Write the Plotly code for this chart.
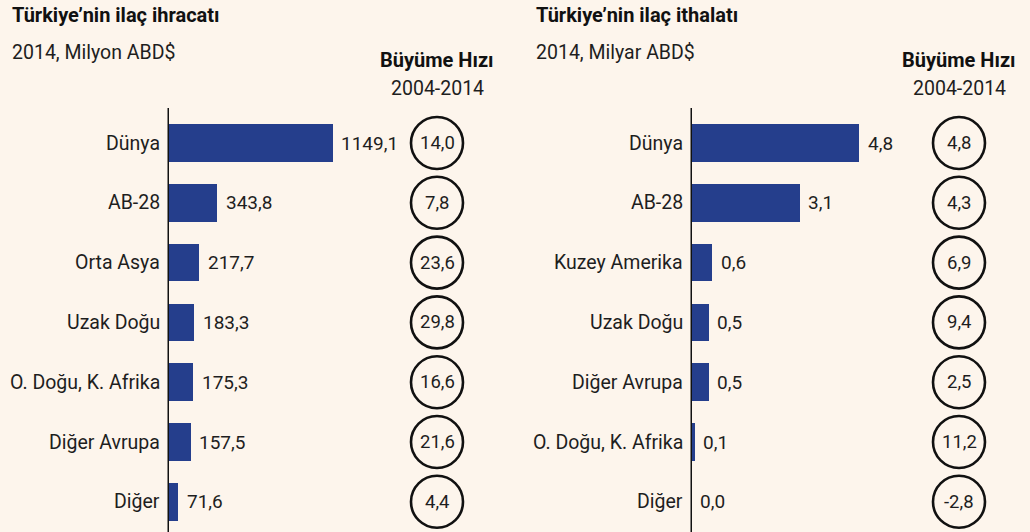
import plotly.graph_objects as go

# ---------------- data ----------------
exp_categories = ["Dünya", "AB-28", "Orta Asya", "Uzak Doğu", "O. Doğu, K. Afrika", "Diğer Avrupa", "Diğer"]
exp_values = [1149.1, 343.8, 217.7, 183.3, 175.3, 157.5, 71.6]
exp_growth = [14.0, 7.8, 23.6, 29.8, 16.6, 21.6, 4.4]

imp_categories = ["Dünya", "AB-28", "Kuzey Amerika", "Uzak Doğu", "Diğer Avrupa", "O. Doğu, K. Afrika", "Diğer"]
imp_values = [4.8, 3.1, 0.6, 0.5, 0.5, 0.1, 0.0]
imp_growth = [4.8, 4.3, 6.9, 9.4, 2.5, 11.2, -2.8]

exp_title = "Türkiye’nin ilaç ihracatı"
exp_unit = "2014, Milyon ABD$"
imp_title = "Türkiye’nin ilaç ithalatı"
imp_unit = "2014, Milyar ABD$"
growth_head = "Büyüme Hızı"
growth_period = "2004-2014"

# ---------------- style / layout ----------------
W, H = 1030, 532
BG = "#fdf5ec"
BAR = "#253e8c"
INK = "#1e1e1e"
FONT = "Roboto"
FS_CAT = 19.5
FS_VAL = 19
FS_CIRC = 18.5
FS_TITLE = 20
FS_SUB = 19.5

ROW0_PX = 143.0      # centre of first row from top
ROW_PX = 59.8        # row spacing
AXIS_TOP_PX = 108.0

L_DOM = (167.5 / W, 0.40)
R_DOM = (690.5 / W, 0.88)
L_SCALE = 0.1433     # px per unit
R_SCALE = 35.0
L_CIRCLE = 437.0 / W
R_CIRCLE = 959.0 / W
CIRC_R = 26


def fmt(v):
    return f"{v:.1f}".replace(".", ",")


y_bottom = (H - ROW0_PX) / ROW_PX
y_top = -ROW0_PX / ROW_PX

fig = go.Figure()

fig.add_trace(go.Bar(
    x=exp_values, y=list(range(len(exp_values))), orientation="h",
    marker=dict(color=BAR, line=dict(width=0)), width=0.63,
    xaxis="x", yaxis="y", hoverinfo="skip", showlegend=False))
fig.add_trace(go.Bar(
    x=imp_values, y=list(range(len(imp_values))), orientation="h",
    marker=dict(color=BAR, line=dict(width=0)), width=0.63,
    xaxis="x2", yaxis="y2", hoverinfo="skip", showlegend=False))

l_max = (L_DOM[1] - L_DOM[0]) * W / L_SCALE
r_max = (R_DOM[1] - R_DOM[0]) * W / R_SCALE

axis_common = dict(showgrid=False, zeroline=False, showticklabels=False, ticks="", showline=False, fixedrange=True)
fig.update_layout(
    width=W, height=H,
    margin=dict(l=0, r=0, t=0, b=0),
    paper_bgcolor=BG, plot_bgcolor=BG,
    font=dict(family=FONT, size=FS_CAT, color=INK),
    bargap=0,
    xaxis=dict(domain=list(L_DOM), range=[0, l_max], anchor="y", **axis_common),
    yaxis=dict(domain=[0, 1], range=[y_bottom, y_top], anchor="x", **axis_common),
    xaxis2=dict(domain=list(R_DOM), range=[0, r_max], anchor="y2", **axis_common),
    yaxis2=dict(domain=[0, 1], range=[y_bottom, y_top], anchor="x2", **axis_common),
)

axis_top_y = (AXIS_TOP_PX - ROW0_PX) / ROW_PX

shapes = []
annots = []

panels = [
    ("x", "y", exp_categories, exp_values, exp_growth, L_CIRCLE, exp_title, exp_unit, 10),
    ("x2", "y2", imp_categories, imp_values, imp_growth, R_CIRCLE, imp_title, imp_unit, 534),
]

for xr, yr, cats, vals, growth, cx, title, unit, title_px in panels:
    # vertical axis line
    shapes.append(dict(type="line", xref=xr, yref=yr, x0=0, x1=0, y0=axis_top_y, y1=y_bottom,
                       line=dict(color="#111111", width=3), layer="above"))
    for i, (c, v, g) in enumerate(zip(cats, vals, growth)):
        annots.append(dict(xref=xr, yref=yr, x=0, y=i, text=c, showarrow=False,
                           xanchor="right", yanchor="middle", xshift=-6,
                           font=dict(size=FS_CAT, color=INK)))
        annots.append(dict(xref=xr, yref=yr, x=v, y=i, text=fmt(v), showarrow=False,
                           xanchor="left", yanchor="middle", xshift=7,
                           font=dict(size=FS_VAL, color=INK)))
        shapes.append(dict(type="circle", xref="paper", yref=yr,
                           xsizemode="pixel", ysizemode="pixel",
                           xanchor=cx, yanchor=i,
                           x0=-CIRC_R, x1=CIRC_R, y0=-CIRC_R, y1=CIRC_R,
                           line=dict(color="#111111", width=2.6)))
        annots.append(dict(xref="paper", yref=yr, x=cx, y=i, text=fmt(g), showarrow=False,
                           xanchor="center", yanchor="middle",
                           font=dict(size=FS_CIRC, color=INK)))
    # headers
    annots.append(dict(xref="paper", yref="paper", x=title_px / W, y=1 - 15 / H,
                       text=f"<b>{title}</b>", showarrow=False, xanchor="left", yanchor="middle",
                       font=dict(size=FS_TITLE, color="#111111")))
    annots.append(dict(xref="paper", yref="paper", x=title_px / W, y=1 - 52 / H,
                       text=unit, showarrow=False, xanchor="left", yanchor="middle",
                       font=dict(size=FS_SUB, color=INK)))
    annots.append(dict(xref="paper", yref="paper", x=cx, y=1 - 60 / H,
                       text=f"<b>{growth_head}</b>", showarrow=False, xanchor="center", yanchor="middle",
                       font=dict(size=FS_TITLE, color="#111111")))
    annots.append(dict(xref="paper", yref="paper", x=cx, y=1 - 88 / H,
                       text=growth_period, showarrow=False, xanchor="center", yanchor="middle",
                       font=dict(size=FS_SUB, color=INK)))

fig.update_layout(shapes=shapes, annotations=annots)
fig.write_html("out.html", config={"displayModeBar": False},
               post_script="document.body.style.margin='0';document.body.style.overflow='hidden';")
